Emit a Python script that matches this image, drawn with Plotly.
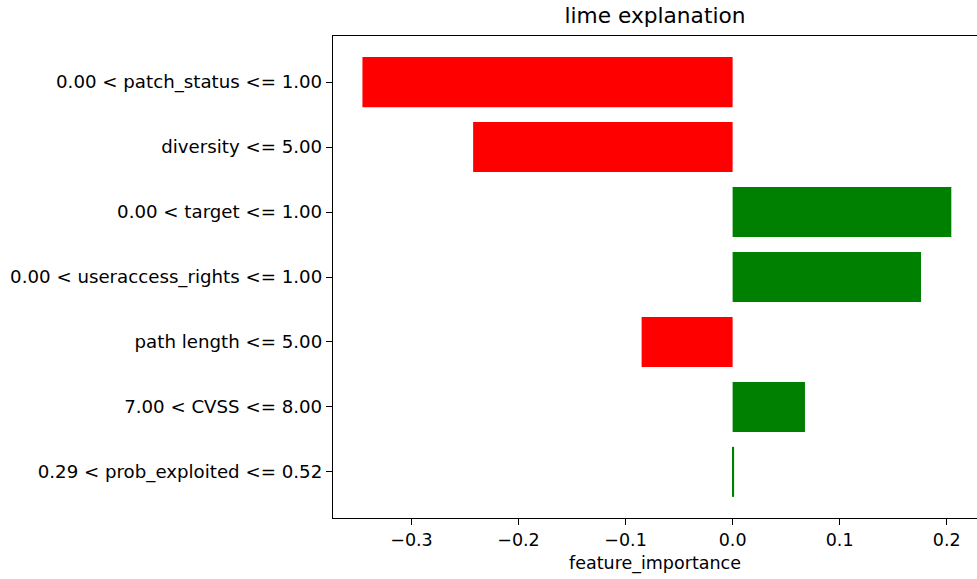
import plotly.graph_objects as go

features = [
    "0.29 < prob_exploited <= 0.52",
    "7.00 < CVSS <= 8.00",
    "path length <= 5.00",
    "0.00 < useraccess_rights <= 1.00",
    "0.00 < target <= 1.00",
    "diversity <= 5.00",
    "0.00 < patch_status <= 1.00",
]
importance = [0.0014, 0.0676, -0.0850, 0.1760, 0.2043, -0.2424, -0.3458]
x_tick_values = [-0.3, -0.2, -0.1, 0.0, 0.1, 0.2]
x_tick_labels = ["−0.3", "−0.2", "−0.1", "0.0", "0.1", "0.2"]

positions = list(range(len(features)))
colors = ["#ff0000" if v < 0 else "#008000" for v in importance]

font_family = "DejaVu Sans, Liberation Sans, sans-serif"

fig = go.Figure(
    go.Bar(
        x=importance,
        y=positions,
        orientation="h",
        width=0.77,
        marker=dict(color=colors, line=dict(width=0)),
        hovertext=features,
    )
)

fig.update_layout(
    width=977,
    height=579,
    margin=dict(l=333, r=0, t=36, b=61, autoexpand=False),
    paper_bgcolor="white",
    plot_bgcolor="white",
    showlegend=False,
    font=dict(family=font_family, color="black", size=17),
    title=dict(
        text="lime explanation",
        font=dict(family=font_family, size=21.7, color="black"),
        x=0.5,
        xref="paper",
        xanchor="center",
        y=1 - 15.5 / 579,
        yref="container",
        yanchor="middle",
    ),
)

fig.update_xaxes(
    range=[-0.3733, 0.2283],
    tickvals=x_tick_values,
    ticktext=x_tick_labels,
    showgrid=False,
    zeroline=False,
    showline=True,
    linecolor="black",
    linewidth=1.3,
    mirror=True,
    ticks="outside",
    ticklen=6,
    tickwidth=1.2,
    tickcolor="black",
    tickfont=dict(size=17.5),
    automargin=False,
    title=dict(text="feature_importance", font=dict(size=17.5), standoff=7),
)

fig.update_yaxes(
    range=[-0.71, 6.71],
    tickvals=positions,
    ticktext=features,
    showgrid=False,
    zeroline=False,
    showline=True,
    linecolor="black",
    linewidth=1.3,
    mirror=False,
    ticks="outside",
    ticklen=6,
    tickwidth=1.2,
    tickcolor="black",
    tickfont=dict(size=18.2),
    automargin=False,
)

fig.write_html(
    "out.html",
    config={"displayModeBar": False},
    post_script="document.body.style.margin='0';document.body.style.padding='0';",
)
